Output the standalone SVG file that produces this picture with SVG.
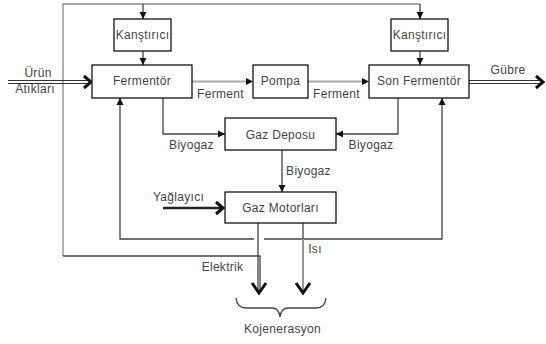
<svg xmlns="http://www.w3.org/2000/svg" width="546" height="344" viewBox="0 0 546 344">
<style>
.box{fill:#fff;stroke:#000;stroke-width:1.2}
.t{font-family:"Liberation Sans",Arial,sans-serif;font-size:12px;fill:#444;letter-spacing:0.3px}
.ln{fill:none;stroke:#444;stroke-width:1.3}
.gl{fill:none;stroke:#888;stroke-width:1.3}
.fer{fill:none;stroke:#aaa;stroke-width:2}
.chev{fill:none;stroke:#111;stroke-width:3}
.dbl{fill:none;stroke:#333;stroke-width:1}
</style>
<defs>
<marker id="ah" markerWidth="8" markerHeight="8" refX="7" refY="4" orient="auto" markerUnits="userSpaceOnUse">
<path d="M0,0.5 L7,4 L0,7.5 Z" fill="#111"/>
</marker>
</defs>
<rect width="546" height="344" fill="#fff"/>
<g id="connectors">
<path class="gl" d="M63,256 L63,4 L420,4"/>
<path class="ln" d="M143,4 L143,19" marker-end="url(#ah)"/>
<path class="ln" d="M420,4 L420,19" marker-end="url(#ah)"/>
<path class="ln" d="M143,51 L143,65" marker-end="url(#ah)"/>
<path class="ln" d="M420,51 L420,65" marker-end="url(#ah)"/>
<path class="dbl" d="M8,80.5 L88,80.5 M8,83.5 L88,83.5"/>
<polyline class="chev" points="84,76 91,82 84,88"/>
<path class="dbl" d="M469,80.5 L540,80.5 M469,83.5 L540,83.5"/>
<polyline class="chev" points="536,76 543,82 536,88"/>
<path class="fer" d="M192,81.5 L247,81.5"/>
<path d="M246,78 L253,81.5 L246,85 Z" fill="#111"/>
<path class="fer" d="M308,81.5 L363,81.5"/>
<path d="M362,78 L369,81.5 L362,85 Z" fill="#111"/>
<path class="ln" d="M163,98 L163,134 L225,134" marker-end="url(#ah)"/>
<path class="ln" d="M398,98 L398,134 L336,134" marker-end="url(#ah)"/>
<path class="ln" d="M282,150 L282,192" marker-end="url(#ah)"/>
<path d="M163,208 L221,208" stroke="#222" stroke-width="2.6" fill="none"/>
<polyline class="chev" points="216,202 223,208 216,214"/>
<path class="ln" d="M254,239 L120,239 L120,98" marker-end="url(#ah)"/>
<path class="ln" d="M264,239 L442,239 L442,98" marker-end="url(#ah)"/>
<path class="ln" d="M258,223 L258,292"/>
<path class="ln" d="M63,256 L260,256 L260,292"/>
<polyline class="chev" points="252,283 259,293 266,283"/>
<path class="ln" d="M303,223 L303,239"/>
<path d="M303,239 L303,292" stroke="#999" stroke-width="2" fill="none"/>
<polyline class="chev" points="296,283 303,293 310,283"/>
<path class="ln" d="M236,298 Q237,308 246,308 L272,308 Q279,308 280,317 Q281,308 288,308 L316,308 Q325,308 326,298"/>
</g>
<g id="kanstirici1"><rect class="box" x="114" y="19" width="57" height="32"/><text class="t" x="142.5" y="39" text-anchor="middle">Kanştırıcı</text></g>
<g id="kanstirici2"><rect class="box" x="391" y="19" width="57" height="32"/><text class="t" x="419.5" y="39" text-anchor="middle">Kanştırıcı</text></g>
<g id="fermentor"><rect class="box" x="92" y="65" width="100" height="33"/><text class="t" x="142" y="85" text-anchor="middle">Fermentör</text></g>
<g id="pompa"><rect class="box" x="253" y="65" width="55" height="33"/><text class="t" x="280.5" y="85" text-anchor="middle">Pompa</text></g>
<g id="sonfermentor"><rect class="box" x="369" y="65" width="100" height="33"/><text class="t" x="419" y="85" text-anchor="middle">Son Fermentör</text></g>
<g id="gazdeposu"><rect class="box" x="225" y="118" width="111" height="32"/><text class="t" x="280.5" y="138.5" text-anchor="middle">Gaz Deposu</text></g>
<g id="gazmotorlari"><rect class="box" x="225" y="192" width="111" height="31"/><text class="t" x="280.5" y="212" text-anchor="middle">Gaz Motorları</text></g>
<g id="labels">
<text class="t" x="38" y="77" text-anchor="middle">Ürün</text>
<text class="t" x="35" y="93" text-anchor="middle">Atıkları</text>
<text class="t" x="508" y="74" text-anchor="middle">Gübre</text>
<text class="t" x="220.5" y="98" text-anchor="middle">Ferment</text>
<text class="t" x="336.5" y="98" text-anchor="middle">Ferment</text>
<text class="t" x="191.5" y="149" text-anchor="middle">Biyogaz</text>
<text class="t" x="371" y="149" text-anchor="middle">Biyogaz</text>
<text class="t" x="308.5" y="175" text-anchor="middle">Biyogaz</text>
<text class="t" x="178.5" y="201" text-anchor="middle">Yağlayıcı</text>
<text class="t" x="222.5" y="271" text-anchor="middle">Elektrik</text>
<text class="t" x="315" y="253" text-anchor="middle">Isı</text>
<text class="t" x="282.5" y="333" text-anchor="middle">Kojenerasyon</text>
</g>
</svg>
